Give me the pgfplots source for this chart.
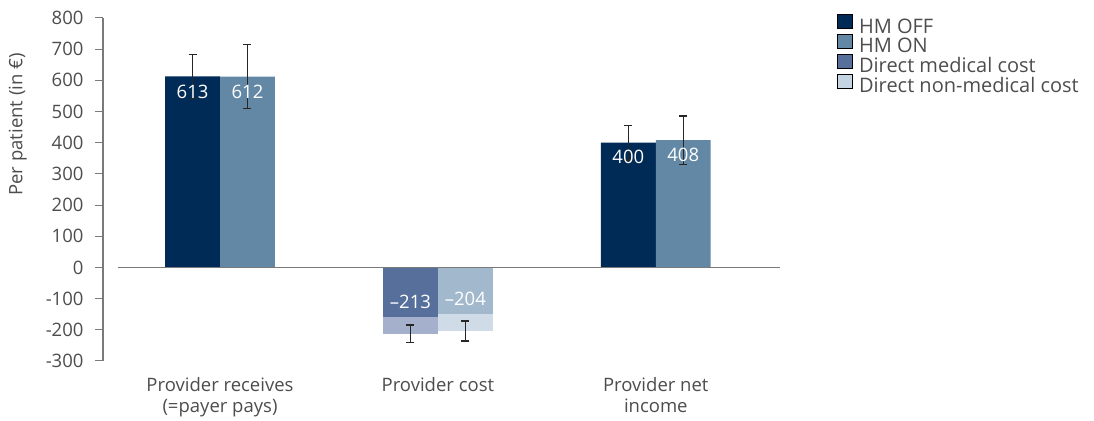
\documentclass[border=0pt]{standalone}
\usepackage{fontspec}
\setmainfont{Open Sans}
\usepackage{pgfplots}
\pgfplotsset{compat=1.18}

\definecolor{hmoff}{HTML}{002B56}
\definecolor{hmon}{HTML}{6388A5}
\definecolor{medoff}{HTML}{566F9B}
\definecolor{nonmedoff}{HTML}{A5B0CC}
\definecolor{medon}{HTML}{A2B8CD}
\definecolor{nonmedon}{HTML}{CFDCE8}
\definecolor{legmed}{HTML}{56709B}
\definecolor{legnonmed}{HTML}{C5D4E3}
\definecolor{txt}{HTML}{4D4D4D}
\definecolor{axisgray}{HTML}{7A7A7A}

\newcommand{\chartfont}{\fontsize{18.5}{21}\selectfont}
\newcommand{\legfont}{\fontsize{20}{22}\selectfont}

\begin{document}
\begin{tikzpicture}
\begin{axis}[
  scale only axis,
  width=677pt, height=343pt,
  xmin=-0.537, xmax=2.57,
  ymin=-300, ymax=800,
  clip=false,
  axis y line*=left,
  axis x line*=bottom,
  x axis line style={draw=none},
  y axis line style={axisgray, line width=1.1pt, -},
  ytick={-300,-200,...,800},
  xtick={0,1,2},
  xticklabels={{Provider receives\\(=payer pays)},{Provider cost},{Provider net\\income}},
  x tick style={draw=none},
  y tick style={axisgray, line width=1pt},
  tick align=outside,
  major tick length=8pt,
  /pgf/number format/assume math mode=true,
  tick label style={font=\chartfont, text=txt},
  x tick label style={align=center, yshift=-5pt},
  yticklabel style={xshift=-8pt},
  ylabel={Per patient (in €)},
  ylabel style={font=\chartfont, text=txt, at={(rel axis cs:-0.126,0.69)}, anchor=center},
  legend style={at={(rel axis cs:1.079,1.017)}, anchor=north west,
    draw=none, fill=none, font=\legfont, text=txt,
    row sep=-2.5pt, cells={anchor=west}},
  legend image code/.code={\fill[#1] (0pt,-2pt) rectangle (15pt,12pt);},
]
\addlegendimage{fill=hmoff}
\addlegendentry{\kern5pt HM OFF}
\addlegendimage{fill=hmon}
\addlegendentry{\kern5pt HM ON}
\addlegendimage{fill=legmed}
\addlegendentry{\kern5pt Direct medical cost}
\addlegendimage{fill=legnonmed}
\addlegendentry{\kern5pt Direct non-medical cost}

% HM OFF
\addplot[ybar, bar width=0.252, bar shift=-0.126, fill=hmoff, draw=none, forget plot]
  coordinates {(0,613) (2,400)};
% HM ON
\addplot[ybar, bar width=0.252, bar shift=0.126, fill=hmon, draw=none, forget plot]
  coordinates {(0,612) (2,408)};
% provider cost, HM OFF: total, then medical part on top
\addplot[ybar, bar width=0.252, bar shift=-0.126, fill=nonmedoff, draw=none, forget plot]
  coordinates {(1,-213)};
\addplot[ybar, bar width=0.252, bar shift=-0.126, fill=medoff, draw=none, forget plot]
  coordinates {(1,-160)};
% provider cost, HM ON
\addplot[ybar, bar width=0.252, bar shift=0.126, fill=nonmedon, draw=none, forget plot]
  coordinates {(1,-204)};
\addplot[ybar, bar width=0.252, bar shift=0.126, fill=medon, draw=none, forget plot]
  coordinates {(1,-150)};

\draw[axisgray, line width=1.1pt] (axis cs:-0.47,0) -- (axis cs:2.57,0);

% error bars at the bar centres
\addplot[draw=none, mark=none, forget plot,
  error bars/.cd, y dir=both, y explicit,
  error bar style={draw=black!85, line width=1.3pt},
  error mark options={draw=black!85, line width=1.3pt, mark size=4pt, rotate=90}]
  coordinates {
    (-0.126,613) +- (0,71)
    (0.126,612) +- (0,102)
    (0.874,-213) +- (0,28)
    (1.126,-204) +- (0,32)
    (1.874,400) +- (0,55)
    (2.126,408) +- (0,78)
  };

\node[white, font=\chartfont] at (axis cs:-0.126,563) {613};
\node[white, font=\chartfont] at (axis cs:0.126,563) {612};
\node[white, font=\chartfont] at (axis cs:0.874,-111) {--213};
\node[white, font=\chartfont] at (axis cs:1.126,-101) {--204};
\node[white, font=\chartfont] at (axis cs:1.874,354) {400};
\node[white, font=\chartfont] at (axis cs:2.126,361) {408};
\end{axis}
\path (current axis.south west) ++(-103pt,-59pt) coordinate (bl);
\path (current axis.north east) ++(314pt,18pt) coordinate (tr);
\path (bl) rectangle (tr);
\end{tikzpicture}
\end{document}
